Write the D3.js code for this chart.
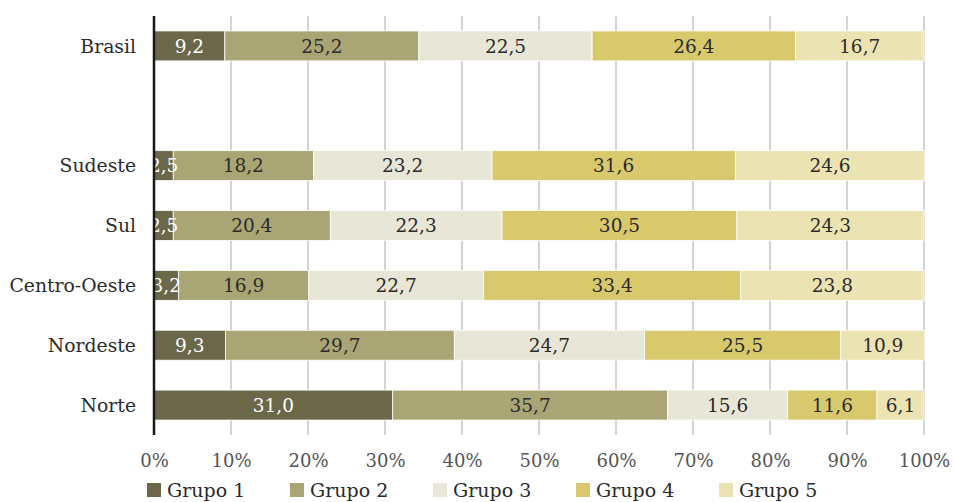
<!DOCTYPE html>
<html><head><meta charset="utf-8">
<script src="https://cdn.jsdelivr.net/npm/d3@7"></script>
<style>
body{margin:0;background:#fff;}
text{font-family:"DejaVu Serif",serif;}
</style></head>
<body><svg id="chart" width="954" height="502"></svg>
<script>
const categories = ["Brasil", "", "Sudeste", "Sul", "Centro-Oeste", "Nordeste", "Norte"];
const groups = ["Grupo 1", "Grupo 2", "Grupo 3", "Grupo 4", "Grupo 5"];
const grupo1 = [9.2, null, 2.5, 2.5, 3.2, 9.3, 31.0];
const grupo2 = [25.2, null, 18.2, 20.4, 16.9, 29.7, 35.7];
const grupo3 = [22.5, null, 23.2, 22.3, 22.7, 24.7, 15.6];
const grupo4 = [26.4, null, 31.6, 30.5, 33.4, 25.5, 11.6];
const grupo5 = [16.7, null, 24.6, 24.3, 23.8, 10.9, 6.1];
const tickValues = [0, 10, 20, 30, 40, 50, 60, 70, 80, 90, 100];
const colors = ["#6b6749", "#a9a574", "#e7e6d7", "#d9c96d", "#ebe3b1"];
const textColors = ["#ffffff", "#2b2b2b", "#2b2b2b", "#2b2b2b", "#2b2b2b"];

const series = [grupo1, grupo2, grupo3, grupo4, grupo5];
const svg = d3.select("#chart");
const margin = {left: 154, right: 30, top: 16, bottom: 67};
const W = 954, H = 502;

const x = d3.scaleLinear().domain([0, 100]).range([margin.left, W - margin.right]);
const y = d3.scaleBand().domain(d3.range(categories.length)).range([margin.top, H - margin.bottom]).paddingInner(0.5).paddingOuter(0.25);

// vertical gridlines
svg.append("g").selectAll("line").data(tickValues.slice(1)).join("line")
  .attr("x1", d => x(d)).attr("x2", d => x(d))
  .attr("y1", margin.top).attr("y2", H - margin.bottom)
  .attr("stroke", "#d4d4d4").attr("stroke-width", 2);

// stacked segments
const rows = categories.map((c, i) => {
  let acc = 0;
  return series.map((s, k) => {
    const v = s[i];
    if (v == null) return null;
    const seg = {row: i, k, v, x0: acc, x1: acc + v};
    acc += v;
    return seg;
  }).filter(Boolean);
}).flat();

const fmt = v => v.toFixed(1).replace(".", ",");

svg.append("g").selectAll("rect").data(rows).join("rect")
  .attr("x", d => x(d.x0)).attr("width", d => x(d.x1) - x(d.x0))
  .attr("y", d => y(d.row)).attr("height", y.bandwidth())
  .attr("fill", d => colors[d.k])
  .attr("stroke", "#ffffff").attr("stroke-width", 0.8);

svg.append("g").selectAll("text").data(rows).join("text")
  .attr("x", d => (x(d.x0) + x(d.x1)) / 2)
  .attr("y", d => y(d.row) + y.bandwidth() / 2)
  .attr("dy", "0.36em").attr("text-anchor", "middle")
  .attr("font-size", 18.5).attr("fill", d => textColors[d.k])
  .text(d => fmt(d.v));

// category labels
svg.append("g").selectAll("text").data(categories).join("text")
  .attr("x", margin.left - 18)
  .attr("y", (d, i) => y(i) + y.bandwidth() / 2)
  .attr("dy", "0.36em").attr("text-anchor", "end")
  .attr("font-size", 18.8).attr("fill", "#2b2b2b")
  .text(d => d);

// baseline axis
svg.append("line")
  .attr("x1", x(0)).attr("x2", x(0))
  .attr("y1", margin.top).attr("y2", H - margin.bottom)
  .attr("stroke", "#1a1a1a").attr("stroke-width", 2.5);

// x tick labels
const xAxis = d3.axisBottom(x).tickValues(tickValues).tickSize(0).tickPadding(0).tickFormat(d => d + "%");
const gx = svg.append("g").attr("transform", `translate(0,${H - margin.bottom + 19})`).call(xAxis);
gx.select(".domain").remove();
gx.selectAll("text").attr("font-family", "DejaVu Serif").attr("font-size", 18).attr("fill", "#555555");

// legend
const lg = svg.append("g").selectAll("g").data(groups).join("g")
  .attr("transform", (d, i) => `translate(${147 + i * 143},483)`);
lg.append("rect").attr("width", 14).attr("height", 14).attr("fill", (d, i) => colors[i]);
lg.append("text").attr("x", 20).attr("y", 7).attr("dy", "0.38em")
  .attr("font-size", 19).attr("fill", "#2b2b2b").text(d => d);
</script>
</body></html>
